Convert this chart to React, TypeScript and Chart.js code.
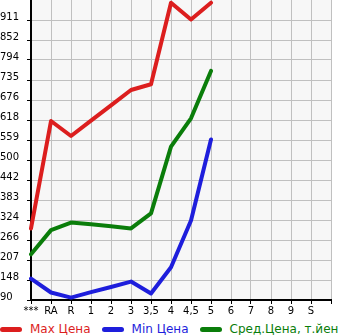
import React, { useEffect, useRef } from "react";
import { Chart, registerables } from "chart.js";

Chart.register(...registerables);

const categories = ["***", "RA", "R", "1", "2", "3", "3,5", "4", "4,5", "5", "6", "7", "8", "9", "S", ""];
const maxPrice = [300, 615, 571, 616, 661, 706, 723, 962, 913, 962];
const minPrice = [153, 112, 97, 113, 128, 144, 109, 186, 323, 561];
const avgPrice = [224, 295, 317, 312, 306, 300, 344, 540, 623, 762];
const yTickLabels = [90, 148, 207, 266, 324, 383, 442, 500, 559, 618, 676, 735, 794, 852, 911];
const yMin = 90;
const yMax = 970;

const RED = "#dc1e1e";
const BLUE = "#1e1edc";
const GREEN = "#0a7d0a";

const bgPlugin = {
  id: "plotBg",
  beforeDraw(chart: any) {
    const { ctx, chartArea } = chart;
    ctx.save();
    ctx.fillStyle = "#f7f7f7";
    ctx.fillRect(chartArea.left, chartArea.top, chartArea.right - chartArea.left, chartArea.bottom - chartArea.top);
    ctx.restore();
  },
};

export default function App() {
  const ref = useRef<HTMLCanvasElement>(null);
  useEffect(() => {
    if (!ref.current) return;
    const chart = new Chart(ref.current, {
      type: "line",
      data: {
        labels: categories,
        datasets: [
          { label: "Max Цена", data: maxPrice, borderColor: RED, backgroundColor: RED, borderWidth: 4, pointRadius: 0, tension: 0, borderCapStyle: "round", borderJoinStyle: "round" },
          { label: "Min Цена", data: minPrice, borderColor: BLUE, backgroundColor: BLUE, borderWidth: 4, pointRadius: 0, tension: 0, borderCapStyle: "round", borderJoinStyle: "round" },
          { label: "Сред.Цена, т.йен", data: avgPrice, borderColor: GREEN, backgroundColor: GREEN, borderWidth: 4, pointRadius: 0, tension: 0, borderCapStyle: "round", borderJoinStyle: "round" },
        ],
      },
      options: {
        animation: false,
        responsive: false,
        maintainAspectRatio: false,
        layout: { padding: { left: 0, right: 14, top: 0, bottom: 0 } },
        plugins: { legend: { display: false }, tooltip: { enabled: false } },
        scales: {
          x: {
            type: "category",
            offset: false,
            grid: { color: "#c0c0c0", tickColor: "#000", tickLength: 4, lineWidth: 1 },
            border: { color: "#000", width: 2 },
            ticks: { color: "#000", font: { family: "DejaVu Sans", size: 10 }, maxRotation: 0, autoSkip: false, padding: 1 },
            afterFit(scale: any) {
              scale.height = 18;
              scale.paddingLeft = 0;
              scale.paddingRight = 0;
            },
          },
          y: {
            type: "linear",
            min: yMin,
            max: yMax,
            grid: { color: "#c0c0c0", tickColor: "#000", tickLength: 4, lineWidth: 1 },
            border: { color: "#000", width: 2 },
            ticks: {
              color: "#000",
              font: { family: "DejaVu Sans", size: 10 },
              crossAlign: "far",
              padding: 2,
              labelOffset: -3,
              callback: (v: any) => String(v),
            },
            afterBuildTicks(scale: any) {
              scale.ticks = yTickLabels.map((v) => ({ value: v }));
            },
            afterFit(scale: any) {
              scale.width = 31;
              scale.paddingTop = 0;
              scale.paddingBottom = 0;
            },
          },
        },
      },
      plugins: [bgPlugin],
    } as any);
    return () => chart.destroy();
  }, []);

  const legendItems = [
    { label: "Max Цена", color: RED },
    { label: "Min Цена", color: BLUE },
    { label: "Сред.Цена, т.йен", color: GREEN },
  ];

  return (
    <div style={{ position: "absolute", left: 0, top: 0, width: 345, height: 335, overflow: "hidden", background: "#fff" }}>
      <canvas ref={ref} width={345} height={318} style={{ position: "absolute", left: 0, top: 0, width: 345, height: 318 }} />
      <div style={{ position: "absolute", left: 0, top: 321, height: 16, whiteSpace: "nowrap", fontFamily: "DejaVu Sans", fontSize: 12, lineHeight: "16px", display: "flex", alignItems: "center" }}>
        {legendItems.map((it, i) => (
          <span key={i} style={{ display: "inline-flex", alignItems: "center", marginRight: 11, color: it.color }}>
            <span style={{ display: "inline-block", width: 22, height: 5, borderRadius: 3, background: it.color, marginRight: 8 }} />
            {it.label}
          </span>
        ))}
      </div>
    </div>
  );
}
